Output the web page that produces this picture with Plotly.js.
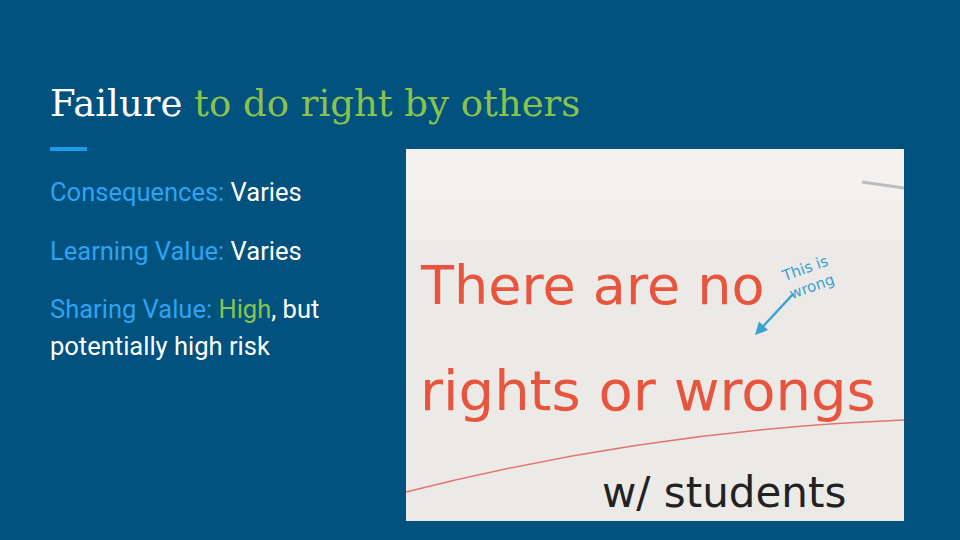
<!DOCTYPE html>
<html>
<head>
<meta charset="utf-8">
<script src="https://cdn.plot.ly/plotly-3.0.1.min.js"></script>
<style>body{margin:0;background:#01527f}#slide{width:960px;height:540px}</style>
</head>
<body>
<div id="slide"></div>
<script>
// slide text
const titleWhite = 'Failure '
const titleGreen = 'to do right by others'
const labels = ['Consequences: ', 'Learning Value: ', 'Sharing Value: ']
const values = ['Varies', 'Varies', 'High']
const tail = ', but'
const secondLine = 'potentially high risk'
// whiteboard words
const boardRed = ['There are no', 'rights or wrongs']
const boardBlack = 'w/ students'
const boardBlue = ['This is', 'wrong']

const bg = '#01527f'
const green = '#8bc34a'
const blue = '#2ea3f2'

let ann = []
ann.push({
  x: 48, y: 103, xanchor: 'left', yanchor: 'middle', showarrow: false,
  text: titleWhite + '<span style="color:' + green + '">' + titleGreen + '</span>',
  font: {family: 'DejaVu Serif', size: 37, color: '#ffffff'}
})
let rowsY = [192, 251, 309]
for (let i = 0; i < labels.length; i++) {
  let valColor = i === 2 ? green : '#ffffff'
  let txt = '<span style="color:' + blue + '">' + labels[i] + '</span>' +
    '<span style="color:' + valColor + '">' + values[i] + '</span>' + (i === 2 ? tail : '')
  ann.push({x: 48, y: rowsY[i], xanchor: 'left', yanchor: 'middle', showarrow: false, text: txt,
    font: {family: 'Roboto', size: 25.5, color: '#ffffff'}})
}
ann.push({x: 48, y: 346, xanchor: 'left', yanchor: 'middle', showarrow: false, text: secondLine,
  font: {family: 'Roboto', size: 25.5, color: '#ffffff'}})

// board text
ann.push({x: 418, y: 285, xanchor: 'left', yanchor: 'middle', showarrow: false, text: boardRed[0],
  font: {family: 'DejaVu Sans', size: 54, color: '#e8553f'}})
ann.push({x: 418, y: 390, xanchor: 'left', yanchor: 'middle', showarrow: false, text: boardRed[1],
  font: {family: 'DejaVu Sans', size: 56, color: '#e8553f'}})
ann.push({x: 600, y: 492, xanchor: 'left', yanchor: 'middle', showarrow: false, text: boardBlack,
  font: {family: 'DejaVu Sans', size: 42, color: '#222222'}})
ann.push({x: 808, y: 278, xanchor: 'center', yanchor: 'middle', showarrow: false,
  text: boardBlue[0] + '<br>' + boardBlue[1], textangle: -20,
  font: {family: 'DejaVu Sans', size: 15, color: '#3aa0d8'}})
ann.push({x: 755, y: 335, ax: 795, ay: 292, axref: 'x', ayref: 'y', showarrow: true,
  arrowhead: 2, arrowwidth: 2.5, arrowcolor: '#3aa0d8', text: ''})

let shapes = [
  {type: 'line', x0: 50, x1: 87, y0: 149, y1: 149, line: {color: '#1e9be8', width: 4}},
  {type: 'rect', x0: 406, x1: 904, y0: 149, y1: 521, line: {width: 0}, fillcolor: '#eceae7', layer: 'below'},
  {type: 'rect', x0: 406, x1: 904, y0: 149, y1: 200, line: {width: 0}, fillcolor: '#f3f2f0', layer: 'below'},
  {type: 'rect', x0: 406, x1: 904, y0: 200, y1: 240, line: {width: 0}, fillcolor: '#f0efec', layer: 'below'},
  {type: 'path', path: 'M 406 492 Q 650 430 904 420', line: {color: '#e57373', width: 1.5}},
  {type: 'line', x0: 862, x1: 904, y0: 182, y1: 188, line: {color: '#bdbdbd', width: 3}}
]

let layout = {
  width: 960, height: 540,
  margin: {l: 0, r: 0, t: 0, b: 0},
  paper_bgcolor: bg, plot_bgcolor: bg,
  xaxis: {range: [0, 960], visible: false, fixedrange: true},
  yaxis: {range: [540, 0], visible: false, fixedrange: true},
  annotations: ann, shapes: shapes, showlegend: false
}
Plotly.newPlot('slide', [], layout, {staticPlot: true})
</script>
</body>
</html>
